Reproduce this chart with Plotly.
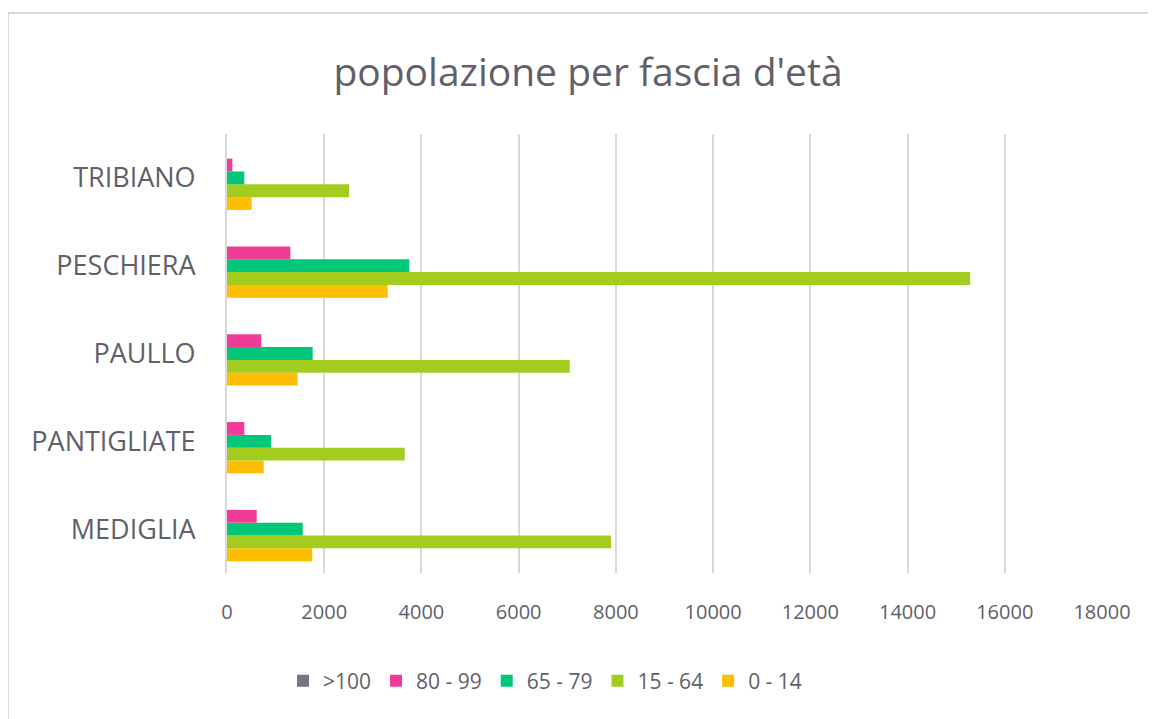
import plotly.graph_objects as go

categories = ["MEDIGLIA", "PANTIGLIATE", "PAULLO", "PESCHIERA", "TRIBIANO"]
series_names = ["0 - 14", "15 - 64", "65 - 79", "80 - 99", ">100"]
v_0_14 = [1755, 755, 1454, 3306, 508]
v_15_64 = [7901, 3656, 7050, 15288, 2510]
v_65_79 = [1557, 905, 1763, 3751, 356]
v_80_99 = [611, 356, 706, 1303, 110]
v_100 = [0, 0, 0, 0, 0]
x_ticks = [0, 2000, 4000, 6000, 8000, 10000, 12000, 14000, 16000, 18000]

values = [v_0_14, v_15_64, v_65_79, v_80_99, v_100]
colors = ["#ffbe00", "#a2cd1f", "#00c878", "#f03c96", "#767680"]

# page has an 8px body margin, so the figure is offset by 8px
OFF = 8
W, H = 1156 - OFF, 719 - OFF
L, T = 227 - OFF, 134 - OFF
pw, ph = 875, 439
R, B = W - L - pw, H - T - ph

fig = go.Figure()
for name, vals, col in zip(series_names, values, colors):
    fig.add_trace(go.Bar(y=categories, x=vals, name=name, orientation="h",
                         marker=dict(color=col, line=dict(width=0))))

font_family = "Open Sans, Lato, sans-serif"
grey = "#60606a"

def px_x(x):
    return (x - OFF - L) / pw

def px_y(y):
    return (T + ph - (y - OFF)) / ph

fig.update_layout(
    width=W, height=H,
    margin=dict(l=L, r=R, t=T, b=B, autoexpand=False),
    barmode="group", bargap=0.27, bargroupgap=0,
    plot_bgcolor="white", paper_bgcolor="white",
    title=dict(text="popolazione per fascia d'età", x=(588 - OFF) / W, xanchor="center",
               y=1 - (72 - OFF) / H, yanchor="middle",
               font=dict(family=font_family, size=39, color=grey)),
    xaxis=dict(range=[0, 18000], tickvals=x_ticks, ticktext=[str(t) for t in x_ticks],
               showgrid=True, gridcolor="#d9d9d9", gridwidth=2, zeroline=False,
               showline=False, ticks="", ticklen=0, ticklabelstandoff=25,
               tickfont=dict(family=font_family, size=20, color=grey)),
    yaxis=dict(showgrid=False, zeroline=False, showline=True, linecolor="#d9d9d9",
               linewidth=2, ticks="", ticklabelstandoff=24,
               tickfont=dict(family=font_family, size=27, color=grey)),
    legend=dict(orientation="h", traceorder="reversed", x=px_x(545), xanchor="center",
                y=px_y(681), yanchor="middle",
                font=dict(family=font_family, size=21, color=grey),
                itemwidth=30),
    showlegend=True,
    shapes=[dict(type="rect", xref="paper", yref="paper",
                 x0=px_x(8), x1=px_x(1400),
                 y0=px_y(900), y1=px_y(13),
                 line=dict(color="#d9d9d9", width=2), fillcolor="rgba(0,0,0,0)", layer="below")],
)
fig.write_html("out.html")
